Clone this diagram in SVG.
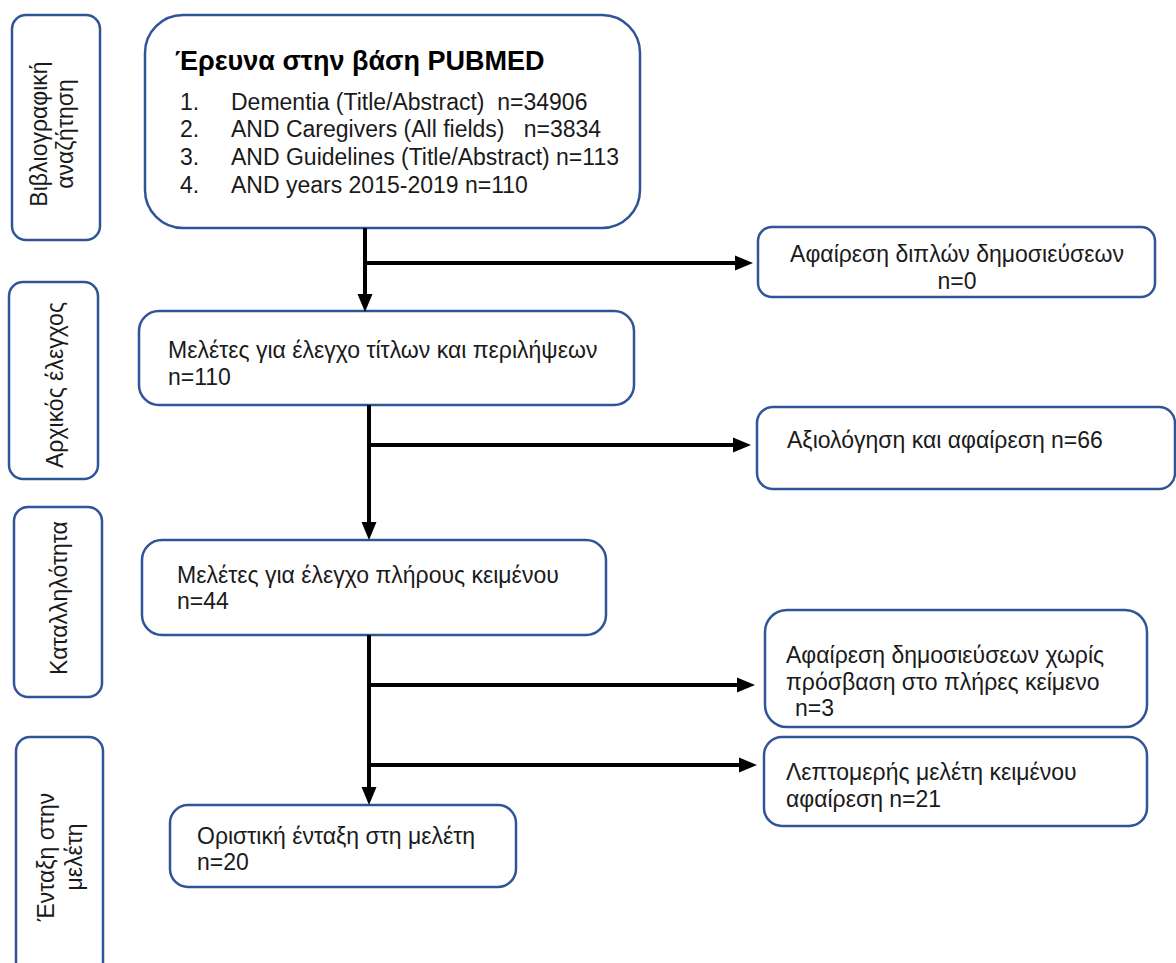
<svg xmlns="http://www.w3.org/2000/svg" width="1176" height="963" viewBox="0 0 1176 963">
<defs>
<style>
.box{fill:#fff;stroke:#2F5597;stroke-width:2.5}
.t{font-family:"Liberation Sans",Arial,sans-serif;font-size:23px;fill:#1a1a1a}
.title{font-family:"Liberation Sans",Arial,sans-serif;font-size:27px;font-weight:bold;fill:#000}
.pre{white-space:pre}
.c{fill:none;stroke:#000;stroke-width:4}
</style>
<marker id="ah" markerUnits="userSpaceOnUse" markerWidth="20" markerHeight="16" viewBox="0 -8 20 16" refX="2" refY="0" orient="auto">
<path d="M0,-7.5 L18,0 L0,7.5 z" fill="#000"/>
</marker>
</defs>
<rect width="1176" height="963" fill="#fff"/>

<g id="label1">
<rect class="box" x="12" y="15" width="88" height="225" rx="14"/>
<text class="t" text-anchor="middle" transform="translate(47,134) rotate(-90)">Βιβλιογραφική</text>
<text class="t" text-anchor="middle" transform="translate(73,134) rotate(-90)">αναζήτηση</text>
</g>
<g id="label2">
<rect class="box" x="9" y="282" width="89" height="197" rx="14"/>
<text class="t" text-anchor="middle" transform="translate(63,385) rotate(-90)">Αρχικός έλεγχος</text>
</g>
<g id="label3">
<rect class="box" x="14" y="507" width="88" height="190" rx="14"/>
<text class="t" text-anchor="middle" transform="translate(67,598) rotate(-90)">Καταλληλότητα</text>
</g>
<g id="label4">
<rect class="box" x="16" y="737" width="87" height="240" rx="14"/>
<text class="t" text-anchor="middle" transform="translate(54,857) rotate(-90)">Ένταξη στην</text>
<text class="t" text-anchor="middle" transform="translate(82,857) rotate(-90)">μελέτη</text>
</g>

<g id="search">
<rect class="box" x="145" y="15" width="495" height="213" rx="38"/>
<text class="title" x="175" y="70">Έρευνα στην βάση PUBMED</text>
<text class="t" x="180" y="110">1.</text>
<text class="t pre" x="231" y="110">Dementia (Title/Abstract)  n=34906</text>
<text class="t" x="180" y="137">2.</text>
<text class="t pre" x="231" y="137">AND Caregivers (All fields)   n=3834</text>
<text class="t" x="180" y="165">3.</text>
<text class="t pre" x="231" y="165">AND Guidelines (Title/Abstract) n=113</text>
<text class="t" x="180" y="193">4.</text>
<text class="t pre" x="231" y="193">AND years 2015-2019 n=110</text>
</g>

<g id="screen">
<rect class="box" x="139" y="311" width="495" height="94" rx="20"/>
<text class="t" x="168" y="358">Μελέτες για έλεγχο τίτλων και περιλήψεων</text>
<text class="t" x="168" y="385">n=110</text>
</g>

<g id="fulltext">
<rect class="box" x="142" y="540" width="464" height="95" rx="20"/>
<text class="t" x="177" y="583">Μελέτες για έλεγχο πλήρους κειμένου</text>
<text class="t" x="177" y="609">n=44</text>
</g>

<g id="included">
<rect class="box" x="170" y="805" width="346" height="82" rx="18"/>
<text class="t" x="197" y="844">Οριστική ένταξη στη μελέτη</text>
<text class="t" x="197" y="870">n=20</text>
</g>

<g id="dup">
<rect class="box" x="758" y="227" width="397" height="70" rx="14"/>
<text class="t" x="957" y="262" text-anchor="middle">Αφαίρεση διπλών δημοσιεύσεων</text>
<text class="t" x="957" y="289" text-anchor="middle">n=0</text>
</g>

<g id="excl1">
<rect class="box" x="757" y="407" width="418" height="82" rx="16"/>
<text class="t" x="787" y="448">Αξιολόγηση και αφαίρεση n=66</text>
</g>

<g id="excl2">
<rect class="box" x="765" y="610" width="382" height="117" rx="22"/>
<text class="t" x="786" y="663">Αφαίρεση δημοσιεύσεων χωρίς</text>
<text class="t" x="786" y="690">πρόσβαση στο πλήρες κείμενο</text>
<text class="t" x="795" y="716">n=3</text>
</g>

<g id="excl3">
<rect class="box" x="764" y="737" width="383" height="89" rx="18"/>
<text class="t" x="786" y="780">Λεπτομερής μελέτη κειμένου</text>
<text class="t" x="786" y="807">αφαίρεση n=21</text>
</g>

<g id="connectors">
<path class="c" d="M365,228 V296" marker-end="url(#ah)"/>
<path class="c" d="M365,263 H737" marker-end="url(#ah)"/>
<path class="c" d="M369,405 V524" marker-end="url(#ah)"/>
<path class="c" d="M369,445 H735" marker-end="url(#ah)"/>
<path class="c" d="M369,635 V789" marker-end="url(#ah)"/>
<path class="c" d="M369,685 H739" marker-end="url(#ah)"/>
<path class="c" d="M369,765 H741" marker-end="url(#ah)"/>
</g>
</svg>
